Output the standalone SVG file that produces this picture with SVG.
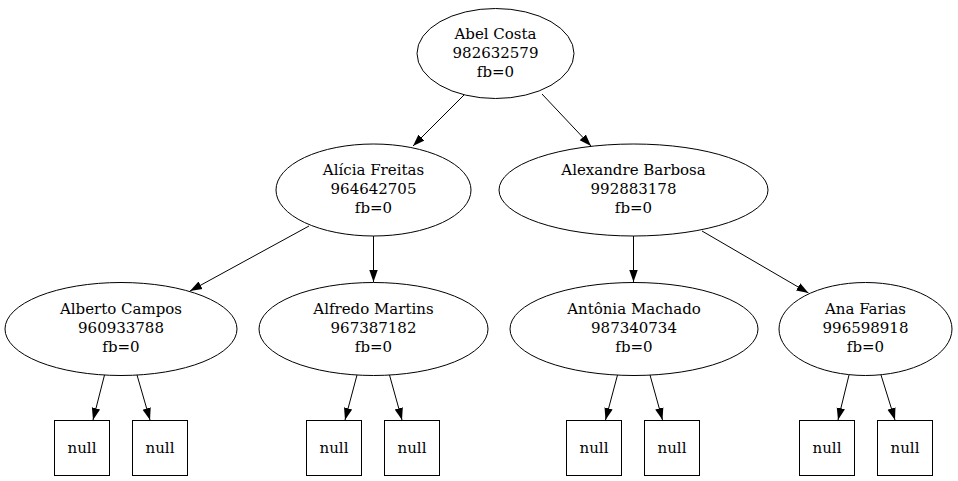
<svg xmlns="http://www.w3.org/2000/svg" width="958" height="481" viewBox="0 0 958 481">
<defs>
<style>
.n ellipse,.n rect{fill:#fff;stroke:#000;stroke-width:1}
text{font-family:"DejaVu Serif","Liberation Serif",serif;font-size:15px;text-anchor:middle;fill:#000}
.e line{stroke:#000;stroke-width:1;marker-end:url(#ah)}
</style>
<marker id="ah" markerUnits="userSpaceOnUse" markerWidth="12" markerHeight="10" viewBox="0 0 10 7" refX="10" refY="3.5" orient="auto">
<path d="M0,0 L10,3.5 L0,7 Z" fill="#000"/>
</marker>
</defs>
<rect width="958" height="481" fill="#fff"/>
<g id="edges" class="e">
<line x1="464" y1="95" x2="413" y2="146"/>
<line x1="542" y1="94" x2="591" y2="146"/>
<line x1="309" y1="226" x2="190" y2="291"/>
<line x1="373.5" y1="236" x2="373.5" y2="282"/>
<line x1="633.5" y1="236" x2="633.5" y2="282"/>
<line x1="702" y1="231" x2="808.5" y2="293"/>
<line x1="104.5" y1="375" x2="93" y2="420"/>
<line x1="137" y1="375" x2="150" y2="420"/>
<line x1="357" y1="375" x2="345" y2="420"/>
<line x1="389.5" y1="375" x2="402" y2="420"/>
<line x1="617.5" y1="375" x2="605.5" y2="420"/>
<line x1="650" y1="375" x2="662.5" y2="420"/>
<line x1="849" y1="375" x2="838" y2="420"/>
<line x1="881" y1="375" x2="895" y2="420"/>
</g>
<g id="abel" class="n"><ellipse cx="495.5" cy="53.5" rx="78.5" ry="45"/><text x="495.5" y="38.5">Abel Costa</text><text x="495.5" y="57.5">982632579</text><text x="495.5" y="76.5">fb=0</text></g>
<g id="alicia" class="n"><ellipse cx="373.5" cy="190" rx="97.5" ry="46"/><text x="373.5" y="175">Alícia Freitas</text><text x="373.5" y="194">964642705</text><text x="373.5" y="213">fb=0</text></g>
<g id="alexandre" class="n"><ellipse cx="633.5" cy="190" rx="134.5" ry="46"/><text x="633.5" y="175">Alexandre Barbosa</text><text x="633.5" y="194">992883178</text><text x="633.5" y="213">fb=0</text></g>
<g id="alberto" class="n"><ellipse cx="121" cy="329" rx="116" ry="46.5"/><text x="121" y="314">Alberto Campos</text><text x="121" y="333">960933788</text><text x="121" y="352">fb=0</text></g>
<g id="alfredo" class="n"><ellipse cx="373.5" cy="329" rx="114.5" ry="46.5"/><text x="373.5" y="314">Alfredo Martins</text><text x="373.5" y="333">967387182</text><text x="373.5" y="352">fb=0</text></g>
<g id="antonia" class="n"><ellipse cx="634" cy="329" rx="124" ry="46.5"/><text x="634" y="314">Antônia Machado</text><text x="634" y="333">987340734</text><text x="634" y="352">fb=0</text></g>
<g id="ana" class="n"><ellipse cx="865.5" cy="329" rx="86.5" ry="46.5"/><text x="865.5" y="314">Ana Farias</text><text x="865.5" y="333">996598918</text><text x="865.5" y="352">fb=0</text></g>
<g id="null1" class="n"><rect x="54.5" y="420.5" width="55" height="55"/><text x="82" y="453">null</text></g>
<g id="null2" class="n"><rect x="132.5" y="420.5" width="55" height="55"/><text x="160" y="453">null</text></g>
<g id="null3" class="n"><rect x="306.5" y="420.5" width="55" height="55"/><text x="334" y="453">null</text></g>
<g id="null4" class="n"><rect x="384.5" y="420.5" width="55" height="55"/><text x="412" y="453">null</text></g>
<g id="null5" class="n"><rect x="566.5" y="420.5" width="55" height="55"/><text x="594" y="453">null</text></g>
<g id="null6" class="n"><rect x="644.5" y="420.5" width="55" height="55"/><text x="672" y="453">null</text></g>
<g id="null7" class="n"><rect x="799.5" y="420.5" width="55" height="55"/><text x="827" y="453">null</text></g>
<g id="null8" class="n"><rect x="877.5" y="420.5" width="55" height="55"/><text x="905" y="453">null</text></g>
</svg>
